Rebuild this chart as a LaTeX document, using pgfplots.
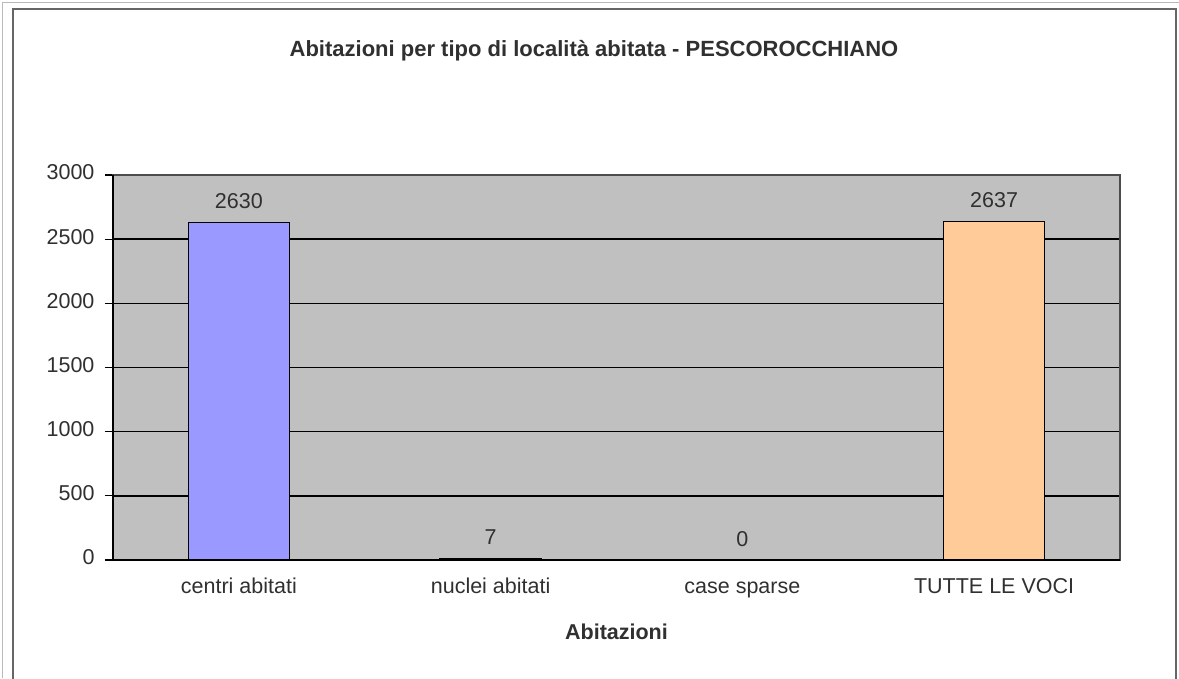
\documentclass[border=0pt]{standalone}
\usepackage{pgfplots}
\pgfplotsset{compat=1.18}
\usepackage{fontspec}
\setmainfont{Liberation Sans}

\definecolor{plotgray}{HTML}{C0C0C0}
\definecolor{barblue}{HTML}{9999FF}
\definecolor{barplum}{HTML}{993366}
\definecolor{barpeach}{HTML}{FFCC99}
\definecolor{labelgray}{HTML}{303030}

\begin{document}
\begin{tikzpicture}[x=1pt,y=1pt]
\useasboundingbox (0,0) rectangle (1179,678);
\fill[white] (0,0) rectangle (1179,678);
% frames around the chart
\draw[gray!55, line width=1pt] (2.5,0) -- (2.5,675.5) -- (1179,675.5);
\draw[black!60, line width=1.8pt] (13,-2) -- (13,669) -- (1176,669) -- (1176,-2);

\node[font=\fontsize{22}{26}\selectfont\bfseries, text=labelgray] at (594,627) {Abitazioni per tipo di località abitata - PESCOROCCHIANO};

\begin{axis}[
  at={(113pt,118pt)}, anchor=south west,
  scale only axis, width=1007pt, height=385pt,
  xmin=0, xmax=4, ymin=0, ymax=3000,
  axis background/.style={fill=plotgray},
  axis line style={black!70, line width=1.2pt},
  ytick={0,500,...,3000},
  ymajorgrids, grid style={black, line width=1.5pt},
  xtick={0.5,1.5,2.5,3.5},
  xticklabels={centri abitati, nuclei abitati, case sparse, TUTTE LE VOCI},
  major x tick style={draw=none},
  extra x ticks={0,1,2,3,4},
  extra x tick labels={},
  extra x tick style={major tick length=8pt, tick style={black, line width=1.2pt}, grid=none},
  tick align=outside, tick pos=left,
  major y tick style={black, line width=1.2pt},
  major tick length=8pt,
  /pgf/number format/assume math mode=true,
  /pgf/number format/1000 sep={},
  typeset ticklabels with strut,
  ticklabel style={font=\fontsize{21.5}{25}\selectfont, text=labelgray},
  xticklabel style={yshift=-4pt},
  yticklabel style={xshift=-7pt},
  xlabel={\textbf{Abitazioni}},
  xlabel style={font=\fontsize{21.5}{25}\selectfont, text=labelgray, yshift=-1pt},
  ybar, bar width=101pt,
  nodes near coords,
  every node near coord/.style={font=\fontsize{21.5}{25}\selectfont, text=labelgray, yshift=10pt},
  clip=false,
]
\addplot[bar shift=0pt, fill=barblue, draw=black, line width=1.2pt] coordinates {(0.5,2630)};
\addplot[bar shift=0pt, fill=barplum, draw=black, line width=2.6pt] coordinates {(1.5,7)};
\addplot[bar shift=0pt, fill=barplum, draw=none] coordinates {(2.5,0)};
\addplot[bar shift=0pt, fill=barpeach, draw=black, line width=1.2pt] coordinates {(3.5,2637)};
% left and bottom axis lines are solid black
\draw[black, line width=1.3pt] (axis cs:0,3000) -- (axis cs:0,0) -- (axis cs:4,0);
\end{axis}
\end{tikzpicture}
\end{document}
